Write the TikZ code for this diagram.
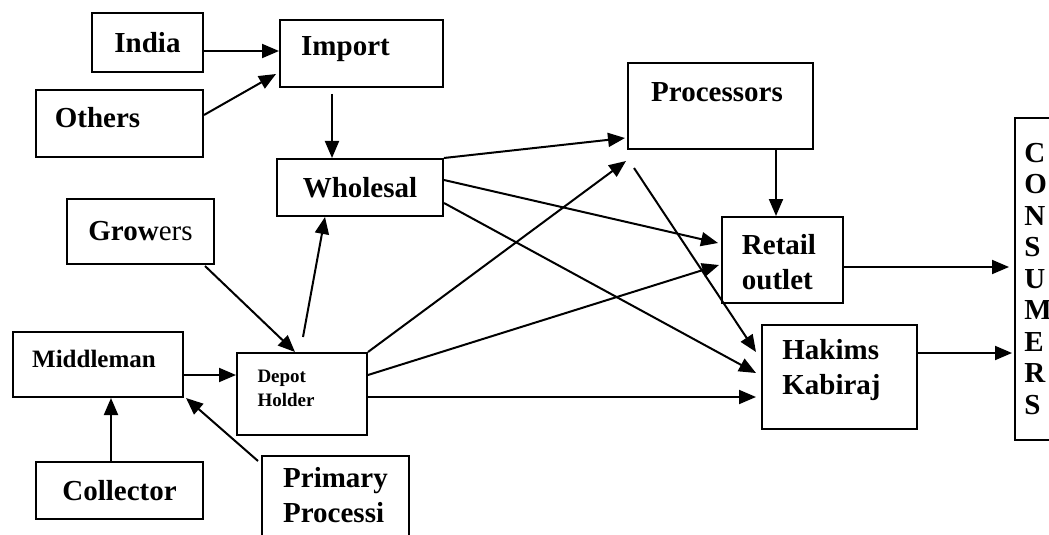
\documentclass[tikz,border=0pt]{standalone}
\usepackage{fontspec}
\setmainfont{Liberation Serif}
\usetikzlibrary{arrows.meta}
\tikzset{
    box/.style={draw, line width=1pt, inner sep=0pt}, % every rectangle
    big/.style={font=\fontsize{14.5}{17.5}\selectfont\bfseries, align=left},
    arr/.style={-{Triangle[length=8.5pt,width=7pt]}, line width=1pt},
}

\begin{document}
\begin{tikzpicture}[x=0.5pt,y=-0.5pt]
  \clip (0,0) rectangle (1049,535);
  % sources
  \node[box,big,minimum width=55.5pt,minimum height=29.5pt] (india) at (147.5,42.5) {India};
  \node[box,minimum width=81.5pt,minimum height=33.5pt,
      label={[big,xshift=-8pt,yshift=2pt]center:Import}] (imp) at (361.5,53.5) {};
  \node[box,minimum width=83.5pt,minimum height=33.5pt,
      label={[big,xshift=-11pt,yshift=3pt]center:Others}] (oth) at (119.5,123.5) {};
  \node[box,big,minimum width=83pt,minimum height=28.5pt] (whl) at (360,187.5) {Wholesal};
  \node[box,font=\fontsize{14.5}{17.5}\selectfont,minimum width=73.5pt,minimum height=32.5pt]
      (grw) at (140.5,231.5) {{\bfseries Grow}ers};
  % collection side
  \node[box,minimum width=85pt,minimum height=32.5pt,
      label={[font=\fontsize{12.5}{15}\selectfont\bfseries,xshift=-2pt,yshift=3pt]center:Middleman}]
      (mid) at (98,364.5) {};
  \node[box,minimum width=65pt,minimum height=41pt,
      label={[font=\fontsize{9.5}{12}\selectfont\bfseries,align=left,xshift=-8pt,yshift=3pt]center:Depot\\Holder}]
      (dep) at (302,394) {};
  \node[box,big,minimum width=83.5pt,minimum height=28.5pt] (col) at (119.5,490.5) {Collector};
  \node[box,minimum width=73.5pt,minimum height=52pt,
      label={[big,yshift=6.5pt]center:Primary\\Processi}] (pri) at (335.5,508) {};
  % market side
  \node[box,minimum width=92.5pt,minimum height=43pt,
      label={[big,xshift=-1.75pt,yshift=7pt]center:Processors}] (proc) at (720.5,106) {};
  \node[box,minimum width=60.5pt,minimum height=43pt,
      label={[big,xshift=-1.75pt,yshift=-1pt]center:Retail\\outlet}] (ret) at (782.5,260) {};
  \node[box,minimum width=77.5pt,minimum height=52pt,
      label={[big,xshift=-4pt,yshift=3.5pt]center:Hakims\\Kabiraj}] (hak) at (839.5,377) {};
  \node[box,minimum width=25pt,minimum height=161pt,
      label={[font=\fontsize{14.5}{15.75}\selectfont\bfseries,align=left,xshift=-1pt]center:C\\O\\N\\S\\U\\M\\E\\R\\S}]
      (cons) at (1040,279) {};
  \coordinate (procout) at ([xshift=3.5pt,yshift=-9pt]proc.south west);

  % flows
  \draw[arr] ([yshift=-4.25pt]india.east) -- ([yshift=-4.25pt]india.east -| imp.west);
  \draw[arr] ([yshift=4.25pt]oth.east) -- ([xshift=-1.5pt,yshift=-10.25pt]imp.west);
  \draw[arr] ([xshift=-14.75pt,yshift=-3pt]imp.south) -- ([xshift=-14pt]whl.north);
  \draw[arr] ([xshift=-5pt,yshift=-0.5pt]grw.south east) -- ([xshift=-3.5pt]dep.north);
  \draw[arr] ([xshift=0.5pt,yshift=7.5pt]dep.north) -- ([xshift=-17.5pt]whl.south);
  \draw[arr] ([yshift=-5.25pt]mid.east) -- ([yshift=-5.25pt]mid.east -| dep.west);
  \draw[arr] ([xshift=-4.25pt]col.north) -- ([xshift=-4.25pt]col.north |- mid.south);
  \draw[arr] ([xshift=-1.5pt,yshift=-3pt]pri.north west) -- ([xshift=1pt]mid.south east);
  \draw[arr] (whl.north east) -- ([xshift=-1pt,yshift=-16pt]proc.west);
  \draw[arr] ([yshift=3.75pt]whl.east) -- ([xshift=-1.5pt,yshift=8.5pt]ret.west);
  \draw[arr] ([yshift=-7.75pt]whl.east) -- ([xshift=-2.5pt,yshift=2pt]hak.west);
  \draw[arr] (dep.north east) -- ([xshift=-0.5pt,yshift=-5.5pt]proc.south west);
  \draw[arr] (procout) -- ([xshift=-2.5pt,yshift=12.5pt]hak.west);
  \draw[arr] ([yshift=9.5pt]dep.east) -- ([xshift=-1pt,yshift=-2.5pt]ret.west);
  \draw[arr,shorten >=2.5pt] ([yshift=-1.5pt]dep.east) -- ([yshift=-1.5pt]dep.east -| hak.west);
  \draw[arr] ([xshift=27.75pt]proc.south) -- ([xshift=27.75pt]proc.south |- ret.north);
  \draw[arr,shorten >=2.5pt] ([yshift=-3.5pt]ret.east) -- ([yshift=-3.5pt]ret.east -| cons.west);
  \draw[arr,shorten >=1pt] ([yshift=12pt]hak.east) -- ([yshift=12pt]hak.east -| cons.west);
\end{tikzpicture}
\end{document}
